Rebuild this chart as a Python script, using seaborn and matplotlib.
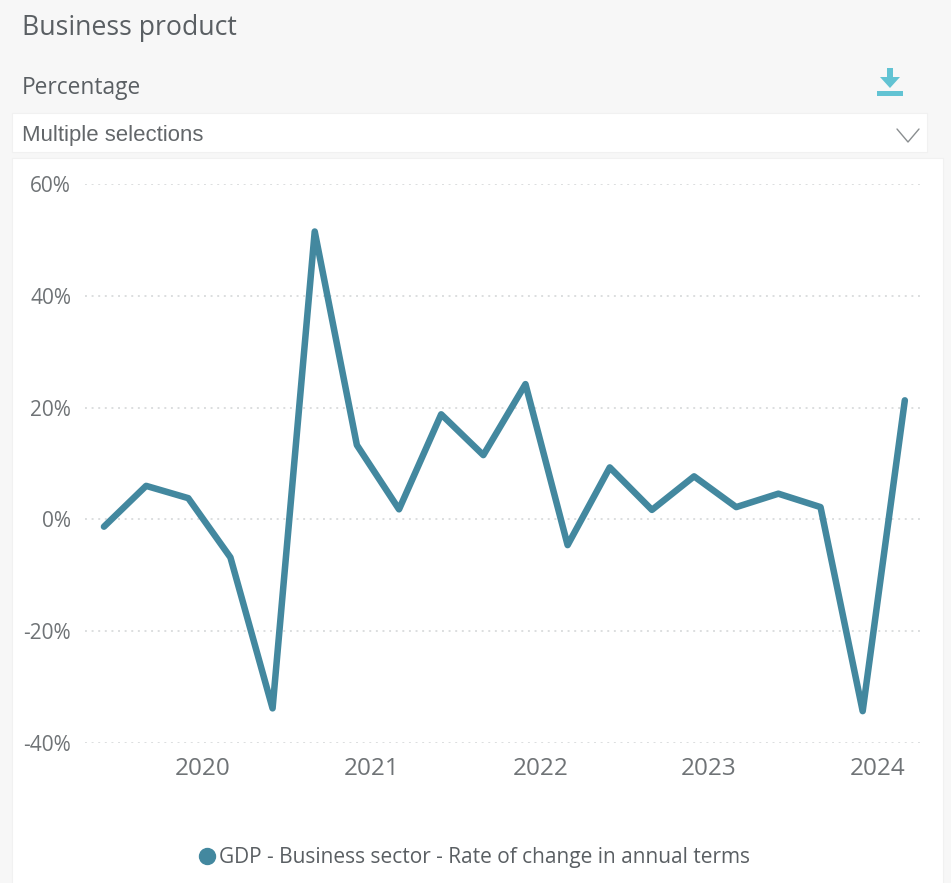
import matplotlib
matplotlib.use("Agg")
import matplotlib.pyplot as plt
from matplotlib.lines import Line2D
from matplotlib.patches import Rectangle, Polygon
import pandas as pd
import seaborn as sns

quarter_index = list(range(20))
growth_rate = [-1.3, 6.0, 3.8, -6.8, -33.8, 51.5, 13.3, 1.8, 18.8, 11.5,
               24.2, -4.6, 9.3, 1.7, 7.7, 2.2, 4.6, 2.2, -34.3, 21.3]
year_labels = ["2020", "2021", "2022", "2023", "2024"]
year_positions = [2.35, 6.35, 10.35, 14.35, 18.35]
y_ticks = [-40, -20, 0, 20, 40, 60]
series_name = "GDP - Business sector - Rate of change in annual terms"

W, H = 951, 883
LINE = "#43889f"
TEXT = "#5a5f63"
TICK = "#6f7376"

sns.set_theme(style="white")
plt.rcParams["font.family"] = ["Open Sans", "DejaVu Sans"]

fig = plt.figure(figsize=(W / 100, H / 100), dpi=100, facecolor="#f7f7f7")


def box(x0, y0, x1, y1):
    """Rectangle given in pixels measured from the top-left corner."""
    return Rectangle((x0 / W, 1 - y1 / H), (x1 - x0) / W, (y1 - y0) / H,
                     transform=fig.transFigure, facecolor="white",
                     edgecolor="#f1f1f1", linewidth=0.8, zorder=-2)


# Page furniture: filter box and chart card
fig.patches.append(box(12, 113, 927, 152))
fig.patches.append(box(12, 158, 943, 890))
fig.text(22 / W, 1 - 28 / H, "Business product", fontsize=19.2, color=TEXT, va="center")
fig.text(22 / W, 1 - 88 / H, "Percentage", fontsize=16.4, color=TEXT, va="center")
fig.text(22 / W, 1 - 135 / H, "Multiple selections", fontsize=15.9, color="#63676a",
         va="center", family=["Liberation Sans", "DejaVu Sans"])

# Dropdown chevron
fig.add_artist(Line2D([897 / W, 908 / W, 919 / W],
                      [1 - 129 / H, 1 - 142 / H, 1 - 129 / H],
                      color="#8a8e90", linewidth=1.0))

# Download icon
icon = "#62c3d3"
fig.patches.append(Rectangle((877 / W, 1 - 96 / H), 26 / W, 5 / H,
                             transform=fig.transFigure, facecolor=icon, edgecolor="none"))
fig.patches.append(Polygon([(887 / W, 1 - 68 / H), (893 / W, 1 - 68 / H), (893 / W, 1 - 77 / H),
                            (900 / W, 1 - 77 / H), (890 / W, 1 - 88 / H), (880 / W, 1 - 77 / H),
                            (887 / W, 1 - 77 / H)],
                           closed=True, transform=fig.transFigure, facecolor=icon, edgecolor="none"))

# Line chart
ax = fig.add_axes([85 / W, 1 - 743 / H, (920 - 85) / W, (743 - 184) / H])
ax.patch.set_alpha(0)
frame = pd.DataFrame({"quarter": quarter_index, "rate": growth_rate})
sns.lineplot(data=frame, x="quarter", y="rate", color=LINE, linewidth=4.7, ax=ax,
             solid_joinstyle="round", solid_capstyle="round", legend=False, errorbar=None)

ax.set_xlim(-0.45, 19.36)
ax.set_ylim(-40, 60)
ax.set_xticks(year_positions, year_labels)
ax.set_yticks(y_ticks, [f"{v}%" for v in y_ticks])
ax.set_xlabel("")
ax.set_ylabel("")
ax.tick_params(axis="x", length=0, pad=10, labelsize=17.5, labelcolor=TICK)
ax.tick_params(axis="y", length=0, pad=10, labelsize=15, labelcolor=TICK)
ax.yaxis.grid(True, color="#dcdedf", linewidth=1.4, linestyle=(0, (1, 2.4)))
ax.xaxis.grid(False)
ax.set_axisbelow(True)
sns.despine(ax=ax, left=True, bottom=True)

# Legend row below the axis
handle = Line2D([], [], marker="o", linestyle="none", color=LINE, markersize=11.5)
fig.legend([handle], [series_name], loc="center", bbox_to_anchor=(468 / W, 1 - 858 / H),
           frameon=False, fontsize=15.0, labelcolor=TEXT, handletextpad=-0.45,
           borderpad=0, borderaxespad=0)

fig.savefig("out.png", dpi=100, facecolor=fig.get_facecolor())
